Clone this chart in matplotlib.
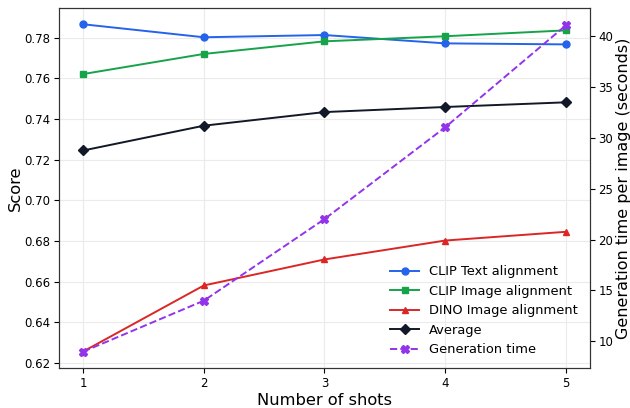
import matplotlib.pyplot as plt

shots = [1, 2, 3, 4, 5]
clip_text = [0.7866, 0.7802, 0.7813, 0.7772, 0.7767]
clip_image = [0.7621, 0.7720, 0.7782, 0.7807, 0.7836]
dino_image = [0.6256, 0.6581, 0.6709, 0.6802, 0.6845]
average = [0.7245, 0.7367, 0.7434, 0.7459, 0.7482]
gen_time = [9.0, 14.0, 22.0, 31.0, 41.0]

fig = plt.figure(figsize=(6.3, 4.08), dpi=100)
ax = fig.add_axes([59 / 630, 40 / 408, 531 / 630, 360 / 408])
ax2 = ax.twinx()

lw, ms = 1.4, 5
l1, = ax.plot(shots, clip_text, "-o", color="#2563eb", lw=lw, ms=ms, label="CLIP Text alignment")
l2, = ax.plot(shots, clip_image, "-s", color="#16a34a", lw=lw, ms=ms, label="CLIP Image alignment")
l3, = ax.plot(shots, dino_image, "-^", color="#dc2626", lw=lw, ms=ms, label="DINO Image alignment")
l4, = ax.plot(shots, average, "-D", color="#111827", lw=lw, ms=ms, label="Average")
l5, = ax2.plot(shots, gen_time, "--X", color="#9333ea", lw=lw, ms=6, label="Generation time")

ax.set_xlim(0.8, 5.2)
ax.set_ylim(0.6175, 0.7946)
ax2.set_ylim(7.4, 42.7)
ax.set_xticks(shots)
ax.set_yticks([0.62, 0.64, 0.66, 0.68, 0.70, 0.72, 0.74, 0.76, 0.78])
ax2.set_yticks([10, 15, 20, 25, 30, 35, 40])
ax.grid(True, color="#ebebeb", lw=0.8)

ax.set_xlabel("Number of shots", fontsize=11.7, labelpad=2)
ax.set_ylabel("Score", fontsize=11.7, labelpad=1)
ax2.set_ylabel("Generation time per image (seconds)", fontsize=11.5, labelpad=2)
ax.tick_params(labelsize=8.5, pad=3)
ax2.tick_params(labelsize=8.5, pad=2.5)
for a in (ax, ax2):
    for s in a.spines.values():
        s.set_color("#333333")

ax2.legend(handles=[l1, l2, l3, l4, l5], loc="lower right", fontsize=9.4,
           frameon=False, handlelength=2.2, labelspacing=0.5)

plt.savefig("out.png")
